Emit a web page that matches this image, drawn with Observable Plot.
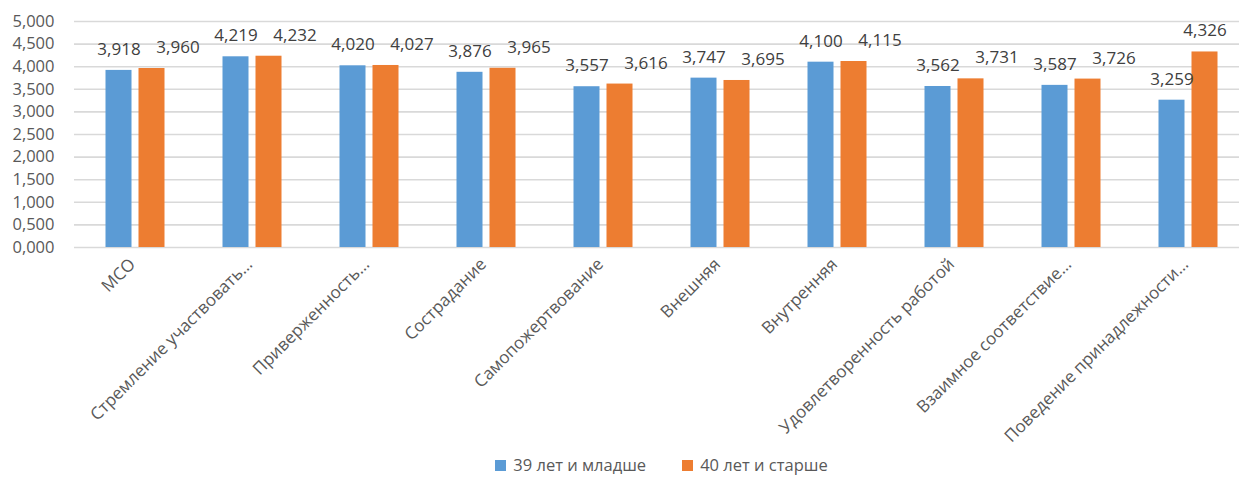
<!DOCTYPE html>
<html>
<head>
<meta charset="utf-8">
<script src="https://cdn.jsdelivr.net/npm/d3@7"></script>
<script src="https://cdn.jsdelivr.net/npm/@observablehq/plot@0.6"></script>
<style>
  html, body { margin: 0; padding: 0; background: #fff; }
  body { width: 1239px; height: 477px; overflow: hidden; position: relative; font-family: "Open Sans", sans-serif; }
  #legend { position: absolute; left: 74px; width: 1175px; top: 455px; display: flex; justify-content: center; align-items: center; gap: 36px; font-size: 16.5px; line-height: 20px; color: #595959; }
  #legend .item { display: flex; align-items: center; gap: 7px; }
  #legend .sw { width: 11px; height: 11px; display: inline-block; }
</style>
</head>
<body>
<div id="chart"></div>
<div id="legend"></div>
<script>
// Categories (axis labels as displayed, long names shortened)
const categories = [
  "МСО",
  "Стремление участвовать…",
  "Приверженность…",
  "Сострадание",
  "Самопожертвование",
  "Внешняя",
  "Внутренняя",
  "Удовлетворенность работой",
  "Взаимное соответствие…",
  "Поведение принадлежности…"
];
const series = ["39 лет и младше", "40 лет и старше"];
const youngValues = [3.918, 4.219, 4.020, 3.876, 3.557, 3.747, 4.100, 3.562, 3.587, 3.259];
const olderValues = [3.960, 4.232, 4.027, 3.965, 3.616, 3.695, 4.115, 3.731, 3.726, 4.326];
const yTicks = [0, 0.5, 1, 1.5, 2, 2.5, 3, 3.5, 4, 4.5, 5];
const colors = ["#5B9BD5", "#ED7D31"];

// Russian number format: comma as decimal separator, three decimals
const ru = d3.formatLocale({decimal: ",", thousands: "\u00a0", grouping: [3], currency: ["", ""]});
const fmt = ru.format(".3f");

const young = categories.map((c, i) => ({category: c, value: youngValues[i]}));
const older = categories.map((c, i) => ({category: c, value: olderValues[i]}));

// Bars of a group sit either side of the category centre
const half = 16.5;

// When the two labels of a group would collide, the second one is pushed right
const close = new Set(categories.filter((c, i) => Math.abs(youngValues[i] - olderValues[i]) < 0.35));
const olderShifted = older.filter(d => close.has(d.category));
const olderPlain = older.filter(d => !close.has(d.category));

const labelOpts = {x: "category", y: "value", text: d => fmt(d.value), dy: -21, fontSize: 17, fill: "#404040"};

const chart = Plot.plot({
  width: 1239,
  height: 452,
  marginLeft: 74,
  marginRight: -10,
  marginTop: 21,
  marginBottom: 205,
  style: {fontFamily: "Open Sans, sans-serif", fontSize: "16px", color: "#595959", background: "#fff"},
  x: {domain: categories, paddingInner: 0.779, paddingOuter: 0.3895, label: null},
  y: {domain: [0, 5], label: null},
  marks: [
    Plot.gridY(yTicks, {stroke: "#D9D9D9", strokeOpacity: 1, strokeWidth: 1.6}),
    Plot.axisY(yTicks, {tickSize: 0, tickPadding: 20, tickFormat: fmt, fontSize: 16.5, fill: "#595959", label: null}),
    Plot.axisX({anchor: "bottom", tickRotate: -45, tickSize: 0, tickPadding: 14, dx: -3, fontSize: 17, fill: "#595959", label: null}),
    Plot.barY(young, {x: "category", y: "value", fill: colors[0], dx: -half}),
    Plot.barY(older, {x: "category", y: "value", fill: colors[1], dx: half}),
    Plot.text(young, {...labelOpts, dx: -half}),
    Plot.text(olderPlain, {...labelOpts, dx: half}),
    Plot.text(olderShifted, {...labelOpts, dx: half + 26})
  ]
});
document.getElementById("chart").append(chart);

const legend = document.getElementById("legend");
series.forEach((s, i) => {
  const item = document.createElement("span");
  item.className = "item";
  const sw = document.createElement("span");
  sw.className = "sw";
  sw.style.background = colors[i];
  const label = document.createElement("span");
  label.textContent = s;
  item.append(sw, label);
  legend.append(item);
});
</script>
</body>
</html>
